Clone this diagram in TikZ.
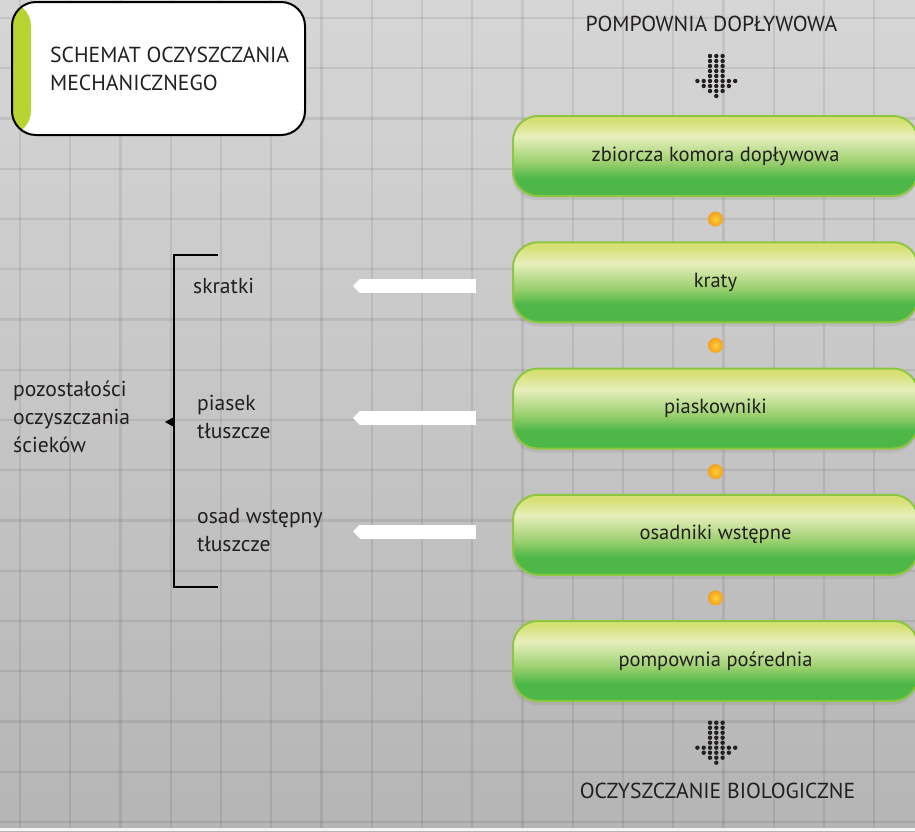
\documentclass[tikz,border=0pt]{standalone}
\usepackage{fontspec}
\setmainfont{PT Sans}
\usetikzlibrary{positioning,calc,shadows,arrows.meta}
\definecolor{bgtop}{HTML}{D6D6D6}
\definecolor{bgbot}{HTML}{B5B5B5}
\definecolor{textdark}{HTML}{231F20}
\definecolor{limeband}{HTML}{B7D433}
\definecolor{stageedge}{HTML}{8DC63F}
\definecolor{stagegreen}{HTML}{4DB848}
\definecolor{stagemid}{HTML}{9ACF6E}
\definecolor{stagelight}{HTML}{E7EFBC}
\definecolor{stagetop}{HTML}{D6E074}
\definecolor{dotorange}{HTML}{F5A01B}
\definecolor{dotyellow}{HTML}{FAD03C}
\pgfdeclareverticalshading{stageshade}{100bp}{color(0bp)=(stagegreen); color(36bp)=(stagegreen); color(46bp)=(stagemid); color(62bp)=(stagelight); color(72bp)=(stagetop); color(100bp)=(stagetop)}
\tikzset{
    gridline/.style={black,opacity=0.08,line width=2.2pt},
    stagebox/.style={draw=stageedge,line width=2pt,shading=stageshade,
        rounded corners=25pt,minimum width=405pt,minimum height=80pt,outer sep=0pt,
        font=\fontsize{20.5}{24}\selectfont,text=textdark,
        drop shadow={opacity=0.18,shadow xshift=-1pt,shadow yshift=-4pt}},
    flowdot/.style={circle,inner sep=0pt,minimum size=15pt,inner color=dotyellow,outer color=dotorange},
    wastearrow/.style={white,line width=14pt,-{Triangle[length=7pt,width=14pt]}},
    sidelabel/.style={anchor=west,align=left,inner sep=0pt,font=\fontsize{21.6}{28}\selectfont,text=textdark},
    capslabel/.style={inner sep=0pt,font=\fontsize{21.7}{28}\selectfont,text=textdark}
}
\newcommand{\dotarrow}[1]{%
    \begin{scope}[shift={(#1)},textdark]
        \foreach \r in {0,...,4}
            \foreach \c in {-1,0,1} \fill (\c*6.3,\r*5) circle (2.2);
        \foreach \c in {-3,...,3} \fill (\c*6.3,25) circle (2.2);
        \foreach \c in {-2,...,2} \fill (\c*6.3,30) circle (2.2);
        \foreach \c in {-1,0,1} \fill (\c*6.3,35) circle (2.2);
        \fill (0,40) circle (2.2);
    \end{scope}}

\begin{document}
\begin{tikzpicture}[x=1pt,y=-1pt]
    \useasboundingbox (0,0) rectangle (915,831);
    % background and grid
    \fill[top color=bgtop,bottom color=bgbot] (0,0) rectangle (915,831);
    \foreach \i in {0,...,17} \draw[gridline] (20+\i*50.25,0) -- (20+\i*50.25,831);
    \foreach \i in {0,...,16} \draw[gridline] (0,18+\i*50.25) -- (915,18+\i*50.25);
    \fill[white!92!gray] (0,828) rectangle (915,831);

    % title
    \node[draw=black,line width=2pt,fill=white,rounded corners=24pt,minimum width=293pt,minimum height=133pt,
        path picture={\fill[limeband] (path picture bounding box.north west) rectangle ([xshift=19pt]path picture bounding box.south west);}]
        (titlebox) at (158.5,68.5) {};
    \node[capslabel,anchor=west,align=left] (titletext) at ([xshift=39pt]titlebox.west) {SCHEMAT OCZYSZCZANIA\\MECHANICZNEGO};

    % process line
    \node[capslabel] (inlet) at (711.5,23.5) {POMPOWNIA DOPŁYWOWA};
    \coordinate (inflow) at (716.3,56);
    \dotarrow{inflow}
    \node[stagebox] (zbiorcza) at (715.5,156) {zbiorcza komora dopływowa};
    \node[stagebox,below=46.25pt of zbiorcza] (kraty) {kraty};
    \node[stagebox,below=46.25pt of kraty] (piaskowniki) {piaskowniki};
    \node[stagebox,below=46.25pt of piaskowniki] (osadniki) {osadniki wstępne};
    \node[stagebox,below=46.25pt of osadniki] (posrednia) {pompownia pośrednia};
    \node[flowdot] (dot1) at ($(zbiorcza.south)!0.5!(kraty.north)$) {};
    \node[flowdot] (dot2) at ($(kraty.south)!0.5!(piaskowniki.north)$) {};
    \node[flowdot] (dot3) at ($(piaskowniki.south)!0.5!(osadniki.north)$) {};
    \node[flowdot] (dot4) at ($(osadniki.south)!0.5!(posrednia.north)$) {};
    \coordinate (outflow) at (716.3,722.7);
    \dotarrow{outflow}
    \node[capslabel] (outlet) at (717.5,791) {OCZYSZCZANIE BIOLOGICZNE};

    % residues
    \coordinate (w1s) at (476,286); \coordinate (w1e) at (353,286);
    \coordinate (w2s) at (476,418); \coordinate (w2e) at (353,418);
    \coordinate (w3s) at (476,531.5); \coordinate (w3e) at (353,531.5);
    \draw[wastearrow] (w1s) -- (w1e);
    \draw[wastearrow] (w2s) -- (w2e);
    \draw[wastearrow] (w3s) -- (w3e);
    \node[sidelabel] (skratki) at (193,286) {skratki};
    \node[sidelabel] (piasek) at (197,417) {piasek\\tłuszcze};
    \node[sidelabel] (osad) at (197,530) {osad wstępny\\tłuszcze};
    \draw[line width=2pt] (218,255) -- (174,255) -- (174,587) -- (218,587);
    \fill (174,417) -- (165,422) -- (174,427) -- cycle;
    \node[sidelabel] (resztki) at (13,417) {pozostałości\\oczyszczania\\ścieków};
\end{tikzpicture}
\end{document}
